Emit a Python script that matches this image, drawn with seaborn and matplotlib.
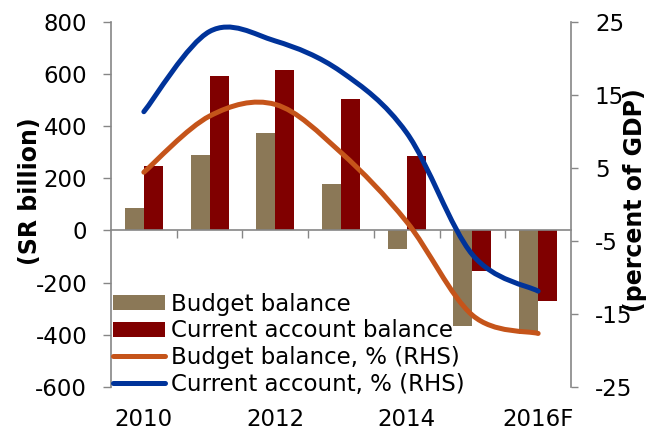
import numpy as np
import pandas as pd
import seaborn as sns
import matplotlib.pyplot as plt
from matplotlib.path import Path
from matplotlib.patches import PathPatch
from matplotlib.lines import Line2D

# data
years = ['2010', '2011', '2012', '2013', '2014', '2015', '2016F']
budget_sr = [87, 290, 372, 179, -70, -367, -397]          # SR billion
current_sr = [248, 592, 615, 505, 287, -156, -271]        # SR billion
budget_pct = [4.4, 12.1, 13.7, 7.1, -2.4, -15.2, -17.7]   # % of GDP (RHS)
current_pct = [12.7, 23.7, 22.4, 18.2, 9.8, -6.9, -11.9]  # % of GDP (RHS)
shown_years = ['2010', '2012', '2014', '2016F']

bar_names = ['Budget balance', 'Current account balance']
line_names = ['Budget balance, % (RHS)', 'Current account, % (RHS)']
colors = {'Budget balance': '#8b7857', 'Current account balance': '#800000'}
line_colors = ['#c5541a', '#00339a']
grey = '#868686'

df = pd.DataFrame({
    'Year': years * 2,
    'Series': [bar_names[0]] * len(years) + [bar_names[1]] * len(years),
    'Value': budget_sr + current_sr,
})


# smooth line like excel: catmull-rom turned into bezier segments
def smooth_path(xs, ys):
    pts = np.column_stack([xs, ys]).astype(float)
    ext = np.vstack([pts[0], pts, pts[-1]])
    verts = [pts[0]]
    codes = [Path.MOVETO]
    for i in range(len(pts) - 1):
        p0, p1, p2, p3 = ext[i], ext[i + 1], ext[i + 2], ext[i + 3]
        verts += [p1 + (p2 - p0) / 6, p2 - (p3 - p1) / 6, p2]
        codes += [Path.CURVE4] * 3
    return Path(verts, codes)


sns.set_style('white')
plt.rcParams['font.family'] = ['DejaVu Sans']
plt.rcParams['axes.unicode_minus'] = False
plt.rcParams['text.color'] = 'black'
plt.rcParams['axes.labelcolor'] = 'black'
fs = 16.5

fig = plt.figure(figsize=(6.54, 4.32), dpi=100)
ax = fig.add_axes([111 / 654, 1 - 386.7 / 432, 460 / 654, 364.7 / 432])

sns.barplot(data=df, x='Year', y='Value', hue='Series', palette=colors,
            width=0.58, gap=0, ax=ax, saturation=1, legend=True,
            edgecolor='none', linewidth=0)
bar_handles, bar_labels = ax.get_legend_handles_labels()
ax.get_legend().remove()

ax.set_xlim(-0.5, len(years) - 0.5)
ax.set_ylim(-600, 800)
ax.set_yticks(range(-600, 801, 200))
ax.set_xticks([years.index(y) for y in shown_years])
ax.set_xticklabels(shown_years)
ax.set_xlabel('')
ax.set_ylabel('(SR billion)', fontsize=17, fontweight='bold')
ax.yaxis.set_label_coords(-0.149, 0.537)
ax.tick_params(axis='x', length=0, pad=15.5, labelsize=fs, labelcolor='black')
ax.tick_params(axis='y', length=5.8, width=1, color=grey, pad=11.3,
               labelsize=fs, labelcolor='black')
for s in ['top', 'right', 'bottom']:
    ax.spines[s].set_visible(False)
ax.spines['left'].set_color(grey)
ax.spines['left'].set_linewidth(1.2)

# category axis crossing at zero, ticks between categories
zero_ax = ax.secondary_xaxis(0, transform=ax.transData)
zero_ax.set_zorder(5)
zero_ax.set_xticks(np.arange(0.5, len(years) - 1, 1))
zero_ax.set_xticklabels([])
zero_ax.tick_params(axis='x', length=6, width=1, color=grey, direction='out')
zero_ax.spines['bottom'].set_color(grey)
zero_ax.spines['bottom'].set_linewidth(1.2)

ax2 = ax.twinx()
ax2.set_ylim(-25, 25)
ax2.set_yticks(range(-25, 26, 10))
ax2.tick_params(axis='y', length=5, width=1, color=grey, pad=12.2,
                labelsize=fs, labelcolor='black')
for s in ['top', 'left', 'bottom']:
    ax2.spines[s].set_visible(False)
ax2.spines['right'].set_color(grey)
ax2.spines['right'].set_linewidth(1.2)
ax2.set_ylabel('(percent of GDP)', fontsize=17, fontweight='bold')
ax2.yaxis.set_label_coords(1.114, 0.512)

xpos = np.arange(len(years))
line_handles = []
for vals, col, name in zip([budget_pct, current_pct], line_colors, line_names):
    ax2.add_patch(PathPatch(smooth_path(xpos, vals), fill=False, edgecolor=col,
                            lw=3.6, capstyle='round', joinstyle='round'))
    line_handles.append(Line2D([], [], color=col, lw=3.6, solid_capstyle='round'))

leg = ax2.legend(bar_handles + line_handles, bar_labels + line_names,
                 loc='center left', bbox_to_anchor=(0.004, 0.117),
                 frameon=False, fontsize=fs, borderpad=0, borderaxespad=0,
                 handlelength=2.27, handletextpad=0.26, labelspacing=0.16,
                 handleheight=0.62)

fig.savefig('out.png', dpi=100)
